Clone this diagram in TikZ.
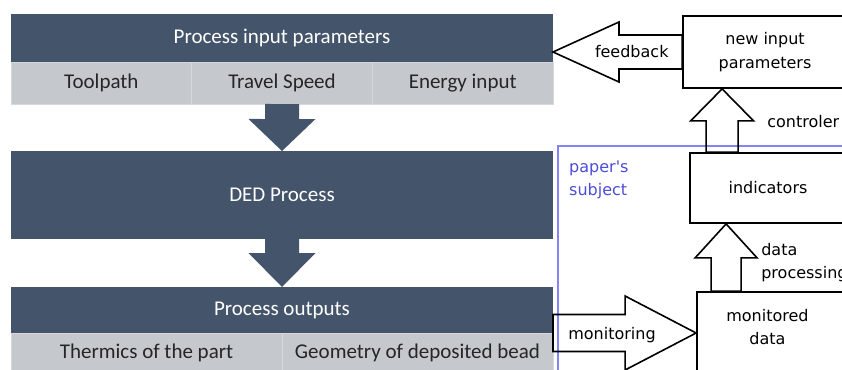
\documentclass[tikz,border=0pt]{standalone}
\usepackage{fontspec}
\setmainfont{Carlito}
\newfontfamily\sidefont{DejaVu Sans}
\usetikzlibrary{calc,positioning}

\definecolor{slate}{HTML}{44546A}
\definecolor{lightslate}{HTML}{C5C8CC}
\definecolor{cellline}{HTML}{D6D8DB}
\definecolor{subjline}{HTML}{8484F2}
\definecolor{subjtext}{HTML}{4C4CD8}

% block arrow: [style]{foot}{tip}{shaft half width}{head half width}{head length}
\newcommand\fatarrow[6][]{%
  \coordinate (fa-base) at ($(#3)!#6pt!(#2)$);
  \path[#1] ($(#2)!#4pt!90:(#3)$) -- ($(fa-base)!#4pt!90:(#3)$)
    -- ($(fa-base)!#5pt!90:(#3)$) -- (#3) -- ($(fa-base)!#5pt!-90:(#3)$)
    -- ($(fa-base)!#4pt!-90:(#3)$) -- ($(#2)!#4pt!-90:(#3)$) -- cycle;}

\tikzset{
  bar/.style={fill=slate, text=white, minimum width=542pt, inner sep=0pt, outer sep=0pt,
    font=\fontsize{21}{25}\selectfont},
  cell/.style={fill=lightslate, draw=cellline, line width=0.6pt, inner sep=0pt, outer sep=0pt,
    text=black!85, font=\fontsize{21}{25}\selectfont},
  box/.style={draw, line width=1.8pt, inner sep=0pt, align=center,
    font=\sidefont\fontsize{16}{24}\selectfont},
  txt/.style={font=\sidefont\fontsize{16}{23}\selectfont, align=center, inner sep=0pt},
  hollow/.style={draw, line width=1.6pt, line join=miter},
  darkarrow/.style={fill=slate},
}

\begin{document}
\begin{tikzpicture}[x=1pt, y=-1pt]
\useasboundingbox (0,0) rectangle (842,369);
\clip (0,0) rectangle (842,369);

% left column: process
\node[bar, minimum height=48pt] (inbar) at (282,38) {Process input parameters};
\node[cell, minimum width=180.67pt, minimum height=42pt, below right=0pt and 0pt of inbar.south west] (toolpath) {Toolpath};
\node[cell, minimum width=180.67pt, minimum height=42pt, right=0pt of toolpath] (speed) {Travel Speed};
\node[cell, minimum width=180.67pt, minimum height=42pt, right=0pt of speed] (energy) {Energy input};

\node[bar, minimum height=88pt] (dedbar) at (282,195) {DED Process};

\node[bar, minimum height=46pt] (outbar) at (282,310) {Process outputs};
\node[cell, minimum width=271pt, minimum height=40pt, below right=0pt and 0pt of outbar.south west] (thermics) {Thermics of the part};
\node[cell, minimum width=271pt, minimum height=40pt, right=0pt of thermics] (geometry) {Geometry of deposited bead};

\fatarrow[darkarrow]{speed.south}{dedbar.north}{17}{33.5}{32}
\fatarrow[darkarrow]{dedbar.south}{outbar.north}{17}{33.5}{34}

% right column: control loop
\draw[subjline, line width=1.3pt] (558,146) rectangle (900,420);
\node[txt, text=subjtext, align=left, anchor=north west] (subj) at (569,161) {paper's\\subject};

\node[box, minimum width=164pt, minimum height=72pt] (newin) at (765,52) {new input\\parameters};
\node[box, minimum width=156pt, minimum height=70pt] (ind) at (768,188) {indicators};
\node[box, minimum width=160pt, minimum height=120pt] (mon) at (777,352) {};
\node[txt, below right=18pt and 30pt of mon.north west] (mon-t) {monitored\\data};

% feedback
\coordinate (fb-tip) at (inbar.east |- newin.west);
\fatarrow[hollow]{newin.west}{fb-tip}{17}{30}{66}
\node[txt] (fb-t) at ($(fb-tip)!.61!(newin.west)$) {feedback};

% controler
\coordinate (ctl-foot) at ($(ind.north west)+(33,0)$);
\coordinate (ctl-tip) at (ctl-foot |- newin.south);
\fatarrow[hollow]{ctl-foot}{ctl-tip}{16}{31.5}{32}
\node[txt, anchor=west] (ctl-t) at ($(ctl-tip)+(45,33)$) {controler};

% data processing
\coordinate (dp-foot) at ($(mon.north west)+(30,0)$);
\coordinate (dp-tip) at (dp-foot |- ind.south);
\fatarrow[hollow]{dp-foot}{dp-tip}{15}{31}{34}
\node[txt, anchor=west, align=left] (dp-t) at ($(dp-tip)+(35,39)$) {data\\processing};

% monitoring
\coordinate (mo-foot) at (outbar.south east);
\coordinate (mo-tip) at (mon.west |- mo-foot);
\fatarrow[hollow]{mo-foot}{mo-tip}{18.5}{37}{71}
\node[txt] (mo-t) at ($(mo-foot)+(59,2)$) {monitoring};
\end{tikzpicture}
\end{document}
